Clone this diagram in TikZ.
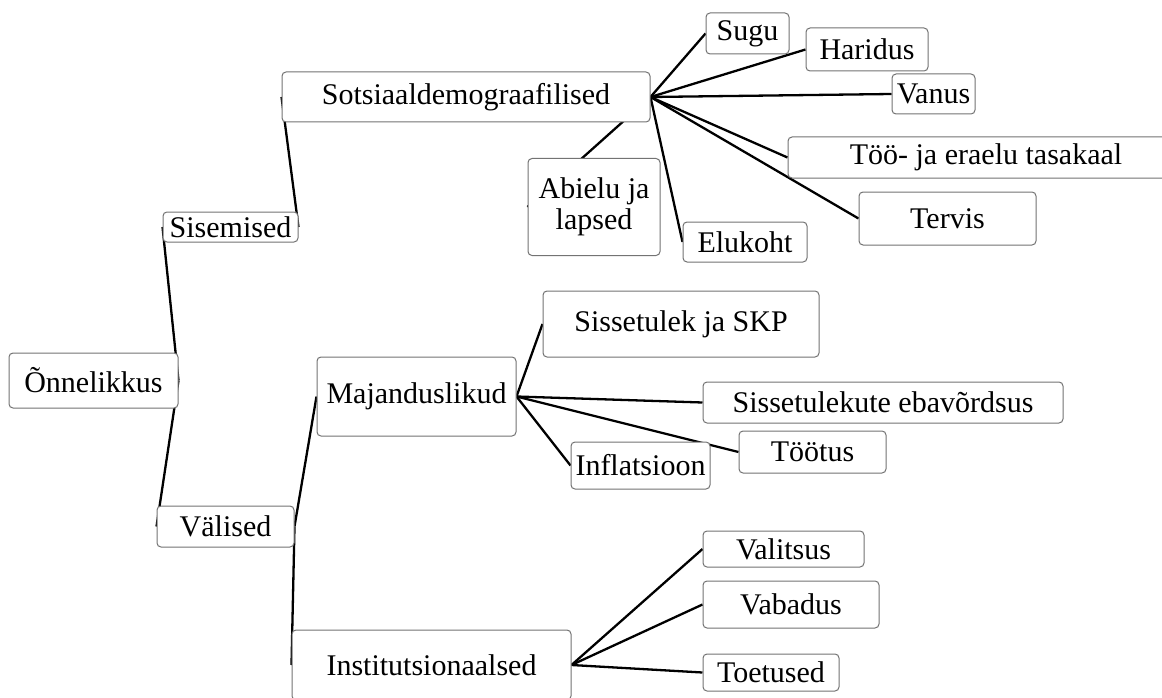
\documentclass[tikz,border=0pt]{standalone}
\usepackage{fontspec}
\setmainfont{Liberation Serif}
\usetikzlibrary{backgrounds}

\tikzset{
    box/.style={draw=black!55, line width=1pt, rounded corners=4pt, fill=white,
        align=center, inner sep=0pt, font=\fontsize{30}{31}\selectfont},
    link/.style={line width=2.3pt, draw=black},
}

\begin{document}
\begin{tikzpicture}[x=1pt, y=-1pt]
    \useasboundingbox (0,0) rectangle (1162,698);

    % root and first level
    \node[box, minimum width=169pt, minimum height=55pt] (onn) at (93.5,380.5) {Õnnelikkus};
    \node[box, minimum width=135pt, minimum height=30pt] (sis) at (230.5,227) {Sisemised};
    \node[box, minimum width=137pt, minimum height=41pt] (val) at (225.5,526.5) {Välised};

    % second level
    \node[box, minimum width=368pt, minimum height=50pt] (sots) at (466,97) {Sotsiaaldemograafilised};
    \node[box, minimum width=199pt, minimum height=79pt] (maj) at (416.5,396.5) {Majanduslikud};
    \node[box, minimum width=279pt, minimum height=70pt] (inst) at (431.5,665) {Institutsionaalsed};

    % sotsiaaldemograafilised
    \node[box, minimum width=83pt, minimum height=41pt] (sugu) at (747.5,33.5) {Sugu};
    \node[box, minimum width=122pt, minimum height=43pt] (har) at (867,49.5) {Haridus};
    \node[box, minimum width=83pt, minimum height=40pt] (van) at (933.5,94) {Vanus};
    \node[box, minimum width=396pt, minimum height=41pt] (too) at (986,157.5) {Töö- ja eraelu tasakaal};
    \node[box, minimum width=177pt, minimum height=53pt] (ter) at (947.5,218.5) {Tervis};
    \node[box, minimum width=124pt, minimum height=40pt] (elu) at (745,242) {Elukoht};
    \node[box, minimum width=132pt, minimum height=97pt] (abi) at (594,207) {Abielu ja\\lapsed};

    % majanduslikud
    \node[box, minimum width=276pt, minimum height=66pt] (skp) at (681,324) {Sissetulek ja SKP};
    \node[box, minimum width=360pt, minimum height=41pt] (ebav) at (883,402.5) {Sissetulekute ebavõrdsus};
    \node[box, minimum width=147pt, minimum height=42pt] (toot) at (812.5,452) {Töötus};
    \node[box, minimum width=139pt, minimum height=47pt] (inf) at (640.5,465.5) {Inflatsioon};

    % institutsionaalsed
    \node[box, minimum width=161pt, minimum height=36pt] (valit) at (783.5,549) {Valitsus};
    \node[box, minimum width=176pt, minimum height=47pt] (vab) at (791,604.5) {Vabadus};
    \node[box, minimum width=136pt, minimum height=37pt] (toet) at (771,672.5) {Toetused};

    \begin{scope}[on background layer]
        \draw[link] (onn.east) -- (sis.west);
        \draw[link] (onn.east) -- (val.west);
        \draw[link] (sis.east) -- (sots.west);
        \draw[link] (val.east) -- (maj.west);
        \draw[link] (val.east) -- (inst.west);
        \foreach \t in {sugu,har,van,too,ter,elu,abi}
            \draw[link] (sots.east) -- (\t.west);
        \foreach \t in {skp,ebav,toot,inf}
            \draw[link] (maj.east) -- (\t.west);
        \foreach \t in {valit,vab,toet}
            \draw[link] (inst.east) -- (\t.west);
    \end{scope}
\end{tikzpicture}
\end{document}
